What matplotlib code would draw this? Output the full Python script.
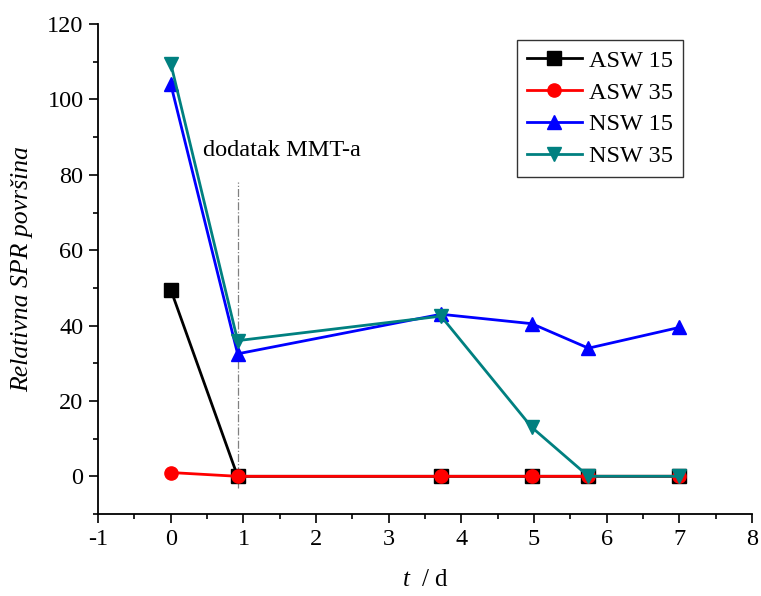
import numpy as np
import matplotlib
matplotlib.use("Agg")
import matplotlib.pyplot as plt

plt.rcParams['font.family'] = ['Liberation Serif', 'DejaVu Serif']
plt.rcParams['mathtext.fontset'] = 'custom'
plt.rcParams['mathtext.rm'] = 'Liberation Serif'
plt.rcParams['mathtext.it'] = 'Liberation Serif:italic'
plt.rcParams['axes.unicode_minus'] = False

# sampling days
t = [0, 0.92, 3.72, 4.97, 5.75, 7.0]

# relative SPR area per series
asw15 = [49.5, 0, 0, 0, 0, 0]
asw35 = [1.0, 0, 0, 0, 0, 0]
nsw15 = [104, 32.5, 43, 40.5, 34, 39.5]
nsw35 = [109.5, 36, 42.5, 13, 0, 0]

labels = ['ASW 15', 'ASW 35', 'NSW 15', 'NSW 35']
colors = ['black', 'red', 'blue', '#008080']
markers = ['s', 'o', '^', 'v']

mmt_day = 0.92

fig = plt.figure(figsize=(7.61, 5.96), dpi=100)
ax = fig.add_axes([0.129, 0.1376, 0.859, 0.822])

for y, lab, c, m in zip([asw15, asw35, nsw15, nsw35], labels, colors, markers):
    ax.plot(t, y, color=c, marker=m, markersize=9.5, linewidth=2, label=lab)

# MMT addition marker
ax.plot([mmt_day, mmt_day], [-3, 78], color='grey', linestyle='-.', linewidth=0.9, zorder=0)
ax.text(0.45, 86.5, 'dodatak MMT-a', fontsize=17.5, va='center', ha='left')

ax.set_xlim(-1, 8)
ax.set_ylim(-10, 120)
ax.set_xticks(np.arange(-1, 9, 1))
ax.set_xticks(np.arange(-0.5, 8, 1), minor=True)
ax.set_yticks(np.arange(0, 121, 20))
ax.set_yticks(np.arange(-10, 120, 20), minor=True)

for s in ['top', 'right']:
    ax.spines[s].set_visible(False)
for s in ['left', 'bottom']:
    ax.spines[s].set_linewidth(1.3)

ax.tick_params(which='major', direction='out', length=6.5, width=1.2, labelsize=17.5, pad=4)
ax.tick_params(which='minor', direction='out', length=3.5, width=1.2)

ax.set_xlabel('$t$  / d', fontsize=18, labelpad=14)
ax.set_ylabel('Relativna SPR površina', fontsize=18.5, style='italic', labelpad=10)

leg = ax.legend(loc='upper right', bbox_to_anchor=(0.894, 0.967), borderaxespad=0,
                fontsize=17.5, frameon=True, fancybox=False, edgecolor='black',
                handlelength=2.26, borderpad=0.4, labelspacing=0.4, handletextpad=0.3)
leg.get_frame().set_linewidth(1.0)

fig.savefig('out.png', dpi=100)
